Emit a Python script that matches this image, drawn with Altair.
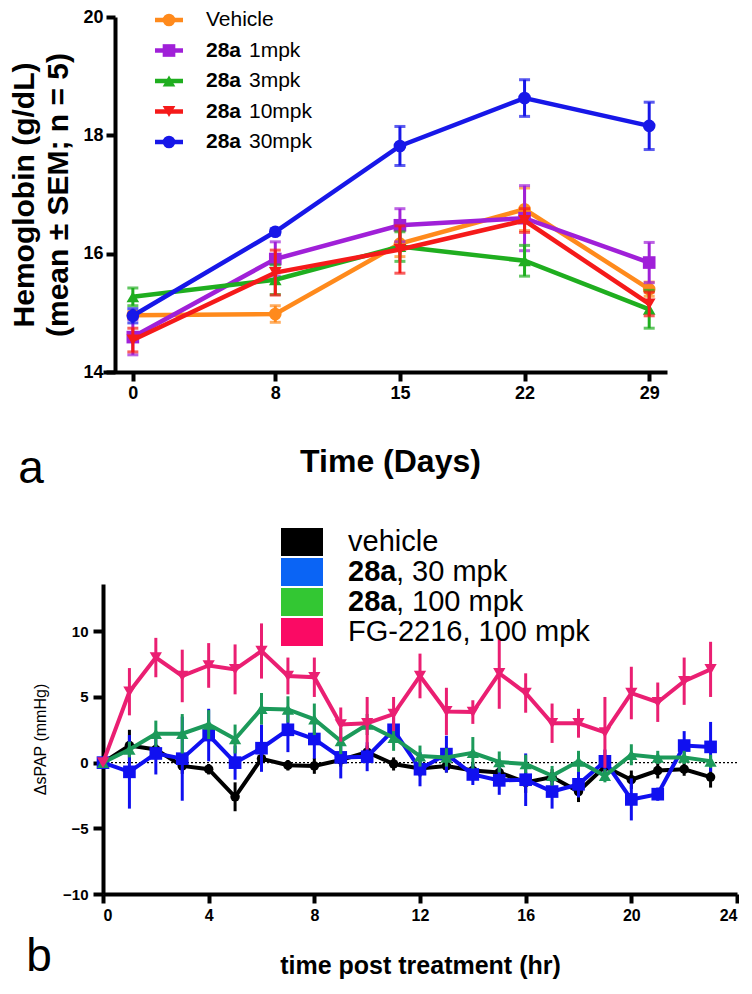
import altair as alt
import pandas as pd

# ---------------- Panel a: hemoglobin ----------------
days = [0, 8, 15, 22, 29]
hb_series = ["Vehicle", "28a 1mpk", "28a 3mpk", "28a 10mpk", "28a 30mpk"]
hb_bold = ["", "28a", "28a", "28a", "28a"]
hb_rest = ["Vehicle", "1mpk", "3mpk", "10mpk", "30mpk"]
hb_vehicle = [14.96, 14.98, 16.17, 16.75, 15.40]
hb_vehicle_sem = [0.06, 0.14, 0.22, 0.36, 0.12]
hb_1mpk = [14.59, 15.91, 16.48, 16.60, 15.85]
hb_1mpk_sem = [0.30, 0.29, 0.28, 0.55, 0.34]
hb_3mpk = [15.27, 15.56, 16.12, 15.88, 15.06]
hb_3mpk_sem = [0.15, 0.25, 0.25, 0.26, 0.32]
hb_10mpk = [14.54, 15.68, 16.07, 16.56, 15.15]
hb_10mpk_sem = [0.20, 0.38, 0.40, 0.20, 0.20]
hb_30mpk = [14.95, 16.37, 17.82, 18.63, 18.16]
hb_30mpk_sem = [0.12, 0.05, 0.33, 0.31, 0.40]

hb_means = [hb_vehicle, hb_1mpk, hb_3mpk, hb_10mpk, hb_30mpk]
hb_sems = [hb_vehicle_sem, hb_1mpk_sem, hb_3mpk_sem, hb_10mpk_sem, hb_30mpk_sem]
hb_colors = ["#ff8a1c", "#a020d8", "#1fae1f", "#f51a1a", "#1717e8"]
hb_shapes = ["circle", "square", "triangle-up", "triangle-down", "circle"]

# ---------------- Panel b: delta sPAP ----------------
hours = list(range(24))
pap_series = ["vehicle", "28a, 30 mpk", "28a, 100 mpk", "FG-2216, 100 mpk"]
pap_bold = ["", "28a", "28a", ""]
pap_rest = ["vehicle", ", 30 mpk", ", 100 mpk", "FG-2216, 100 mpk"]
pap_vehicle = [0, 1.3, 1.0, -0.25, -0.5, -2.6, 0.3, -0.2, -0.25, 0.2, 0.8, -0.1,
               -0.45, -0.25, -0.6, -0.75, -1.5, -1.1, -2.2, -0.3, -1.3, -0.6, -0.5, -1.1]
pap_vehicle_sem = [0, 1.2, 0.4, 0.6, 0.4, 1.1, 0.4, 0.4, 0.6, 0.5, 0.5, 0.5,
                   0.6, 0.5, 0.6, 0.5, 0.8, 0.6, 0.8, 0.5, 0.7, 0.6, 0.5, 0.8]
pap_30mpk = [0, -0.7, 0.7, 0.3, 2.1, 0.0, 1.1, 2.5, 1.8, 0.4, 0.45, 2.5,
             -0.5, 0.65, -0.9, -1.35, -1.3, -2.2, -1.65, 0.1, -2.8, -2.4, 1.3, 1.2]
pap_30mpk_sem = [0, 2.8, 1.6, 3.2, 2.0, 1.3, 1.8, 1.7, 1.5, 1.6, 1.1, 1.0,
                 1.3, 1.4, 0.8, 1.1, 2.0, 1.3, 1.0, 0.9, 1.6, 0.5, 1.1, 1.9]
pap_100mpk = [0, 1.0, 2.2, 2.2, 2.9, 1.8, 4.1, 4.05, 3.3, 1.65, 2.9, 1.9,
              0.5, 0.4, 0.75, 0.05, -0.1, -1.0, 0.1, -1.0, 0.6, 0.4, 0.4, 0.1]
pap_100mpk_sem = [0, 0.6, 1.0, 1.5, 1.1, 1.1, 1.2, 1.0, 1.2, 1.0, 0.8, 1.0,
                  0.8, 0.7, 1.2, 0.8, 0.7, 0.75, 0.8, 0.5, 0.8, 0.5, 0.5, 0.5]
pap_fg = [0, 5.4, 8.0, 6.6, 7.4, 7.1, 8.5, 6.6, 6.5, 2.9, 3.0, 3.7,
          6.6, 3.9, 3.85, 6.8, 5.3, 3.0, 3.0, 2.3, 5.3, 4.6, 6.2, 7.1]
pap_fg_sem = [0, 1.8, 1.5, 2.0, 1.7, 1.9, 2.1, 1.4, 1.5, 1.3, 2.0, 1.3,
              1.7, 1.8, 0.9, 2.7, 1.5, 1.5, 1.1, 2.7, 2.0, 1.5, 1.8, 2.1]

pap_means = [pap_vehicle, pap_30mpk, pap_100mpk, pap_fg]
pap_sems = [pap_vehicle_sem, pap_30mpk_sem, pap_100mpk_sem, pap_fg_sem]
pap_colors = ["#000000", "#1010f0", "#1c9a5a", "#ea1f72"]
pap_swatches = ["#000000", "#0a64f5", "#33c733", "#fa0a64"]
pap_shapes = ["circle", "square", "triangle-up", "triangle-down"]
pap_sizes = [90, 160, 150, 150]

FONT = "Liberation Sans"
NARROW = "Liberation Sans Narrow, Liberation Sans, Arial"
AX = dict(grid=False, domainColor="#000000", domainWidth=4, domainOpacity=1,
          tickColor="#000000", tickWidth=4, tickOpacity=1,
          labelColor="#000000", titleColor="#000000")


def long_df(series, xs, means, sems, xname):
    rows = []
    for name, vals, errs in zip(series, means, sems):
        for x, v, e in zip(xs, vals, errs):
            rows.append({"series": name, xname: x, "value": v, "lo": v - e, "hi": v + e})
    return pd.DataFrame(rows)


def label_chart(text, x, y, size, bold=False, align="left", baseline="middle"):
    return alt.Chart(pd.DataFrame({"t": [text]})).mark_text(
        align=align, baseline=baseline, font=FONT, fontSize=size,
        fontWeight="bold" if bold else "normal", color="black"
    ).encode(x=alt.value(x), y=alt.value(y), text="t:N")


# ================= Top chart =================
W1, H1 = 564, 355
top_df = long_df(hb_series, days, hb_means, hb_sems, "day")
top_color = alt.Scale(domain=hb_series, range=hb_colors)
top_shape = alt.Scale(domain=hb_series, range=hb_shapes)

top_xscale = alt.Scale(domain=[-1.676, 30], nice=False, zero=False)
top_xaxis = alt.Axis(values=days, title="Time (Days)", tickSize=9, labelFont=NARROW, labelFontSize=18,
                     labelFontWeight="bold", labelPadding=3, titleFont=FONT, titleFontSize=32,
                     titleFontWeight="bold", titlePadding=44, titleX=287, format="d", **AX)
top_yscale = alt.Scale(domain=[14, 20], nice=False, zero=False)
top_yaxis = alt.Axis(values=[14, 16, 18, 20], offset=-12, tickSize=9,
                     title=["Hemoglobin (g/dL)", "(mean \u00b1 SEM; n = 5)"],
                     labelFont=NARROW, labelFontSize=18, labelFontWeight="bold", labelPadding=3,
                     titleFont=FONT, titleFontSize=30, titleFontWeight="bold",
                     titleLineHeight=34, titlePadding=9, format="d", **AX)

def tX(field="day"):
    return alt.X(f"{field}:Q", scale=top_xscale, axis=top_xaxis)

def tY(field):
    return alt.Y(f"{field}:Q", scale=top_yscale, axis=top_yaxis)

tcolor = alt.Color("series:N", scale=top_color, legend=None)
tshape = alt.Shape("series:N", scale=top_shape, legend=None)

top_layers = []
for name in hb_series:
    base = alt.Chart(top_df).transform_filter(alt.datum.series == name)
    top_layers.append(base.mark_rule(strokeWidth=3).encode(x=tX(), y=tY("lo"), y2="hi:Q", color=tcolor))
    top_layers.append(base.mark_tick(orient="horizontal", size=11, thickness=3).encode(x=tX(), y=tY("lo"), color=tcolor))
    top_layers.append(base.mark_tick(orient="horizontal", size=11, thickness=3).encode(x=tX(), y=tY("hi"), color=tcolor))
    top_layers.append(base.mark_line(strokeWidth=4.5).encode(x=tX(), y=tY("value"), color=tcolor))
    top_layers.append(base.mark_point(filled=True, opacity=1, size=160).encode(
        x=tX(), y=tY("value"), color=tcolor, shape=tshape))

# legend of panel a (drawn by hand: mixed bold/regular labels)
for i, (col, shp, b, r) in enumerate(zip(hb_colors, hb_shapes, hb_bold, hb_rest)):
    yrow = 3 + i * 30.5
    one = alt.Chart(pd.DataFrame({"k": [0]}))
    top_layers.append(one.mark_rule(strokeWidth=4.5, color=col).encode(
        x=alt.value(52), x2=alt.value(80), y=alt.value(yrow)))
    top_layers.append(one.mark_point(filled=True, opacity=1, size=160, color=col, shape=shp).encode(
        x=alt.value(66), y=alt.value(yrow)))
    if b:
        top_layers.append(label_chart(b, 103, yrow, 21, bold=True))
        top_layers.append(label_chart(r, 146, yrow, 21))
    else:
        top_layers.append(label_chart(r, 103, yrow, 21))
top_layers.append(label_chart("a", -72, 466, 46, align="center", baseline="alphabetic"))
top = alt.layer(*top_layers).properties(width=W1, height=H1)

# ================= Bottom chart =================
W2, H2 = 634, 310
bot_df = long_df(pap_series, hours, pap_means, pap_sems, "hour")
bot_color = alt.Scale(domain=pap_series, range=pap_colors)
bot_shape = alt.Scale(domain=pap_series, range=pap_shapes)
bcolor = alt.Color("series:N", scale=bot_color, legend=None)
bshape = alt.Shape("series:N", scale=bot_shape, legend=None)

bot_xscale = alt.Scale(domain=[0, 24], nice=False)
bot_xaxis = alt.Axis(values=[0, 4, 8, 12, 16, 20, 24], title="time post treatment (hr)", tickSize=9,
                     labelFont=NARROW, labelFontSize=16, labelFontWeight="bold", labelPadding=4,
                     titleFont=FONT, titleFontSize=25, titleFontWeight="bold", titlePadding=30, **AX)
bot_yscale = alt.Scale(domain=[-10, 13.6], nice=False, zero=False)
bot_yaxis = alt.Axis(values=[-10, -5, 0, 5, 10], title="\u0394sPAP (mmHg)", tickSize=10,
                     labelFont=NARROW, labelFontSize=15, labelFontWeight="bold", labelPadding=5,
                     titleFont=FONT, titleFontSize=16, titleFontWeight="normal", titlePadding=14, **AX)

def bX():
    return alt.X("hour:Q", scale=bot_xscale, axis=bot_xaxis)

def bY(field):
    return alt.Y(f"{field}:Q", scale=bot_yscale, axis=bot_yaxis)

bot_layers = [
    alt.Chart(pd.DataFrame({"z": [0]})).mark_rule(color="black", strokeWidth=1.3, strokeDash=[2, 2]).encode(
        y=bY("z"), x=alt.value(0), x2=alt.value(W2))
]
for name, sz in zip(pap_series, pap_sizes):
    base = alt.Chart(bot_df).transform_filter(alt.datum.series == name)
    bot_layers.append(base.mark_rule(strokeWidth=3).encode(x=bX(), y=bY("lo"), y2="hi:Q", color=bcolor))
    bot_layers.append(base.mark_line(strokeWidth=4).encode(x=bX(), y=bY("value"), color=bcolor))
    bot_layers.append(base.mark_point(filled=True, opacity=1, size=sz).encode(
        x=bX(), y=bY("value"), color=bcolor, shape=bshape))

# legend of panel b (colour swatches with mixed bold/regular labels)
for i, (sw, b, r) in enumerate(zip(pap_swatches, pap_bold, pap_rest)):
    yrow = -42 + i * 30
    one = alt.Chart(pd.DataFrame({"k": [0]}))
    bot_layers.append(one.mark_point(filled=True, opacity=1, size=1764, color=sw,
                                     shape="M-1,-0.667L1,-0.667L1,0.667L-1,0.667Z").encode(
        x=alt.value(199), y=alt.value(yrow)))
    if b:
        bot_layers.append(label_chart(b, 245, yrow, 29, bold=True))
        bot_layers.append(label_chart(r, 293, yrow, 29))
    else:
        bot_layers.append(label_chart(r, 245, yrow, 29))
bot_layers.append(label_chart("b", -64, 387, 46, align="center", baseline="alphabetic"))
bottom = alt.layer(*bot_layers).properties(width=W2, height=H2)

chart = alt.vconcat(top, bottom, spacing=35).resolve_scale(
    color="independent", shape="independent"
).properties(
    padding={"left": 1, "top": 0, "right": 0, "bottom": 0}, background="white"
).configure_view(stroke=None).configure_axis(
    grid=False, domainColor="#000000", domainWidth=4, tickColor="#000000", tickWidth=4,
    labelColor="#000000", titleColor="#000000"
)

chart.save("out.html", embed_options={"renderer": "svg", "actions": False})
